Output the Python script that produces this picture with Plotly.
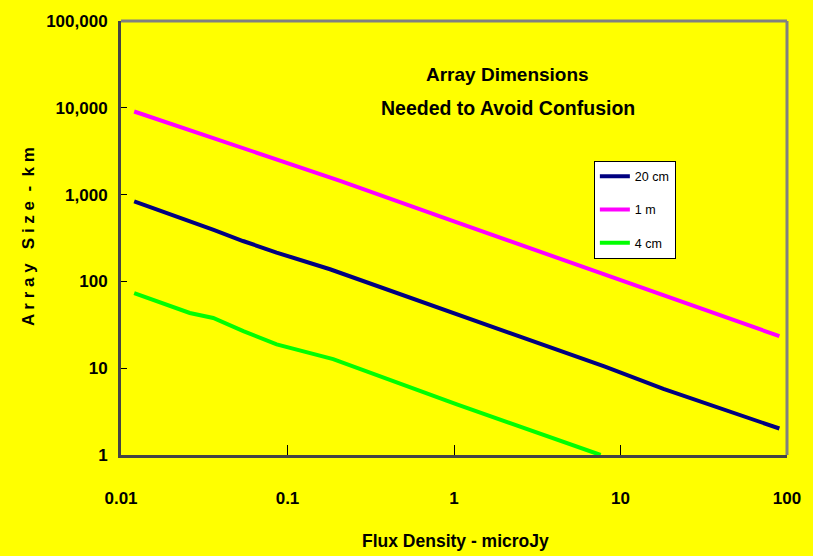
import plotly.graph_objects as go

# ---- data ----
flux_20cm = [0.012, 0.0226, 0.036, 0.054, 0.086, 0.18, 1.04, 8.07, 18.1, 90]
size_20cm = [836, 549, 393, 292, 215, 138, 41.5, 10.4, 5.77, 2.02]

flux_1m = [0.012, 0.0272, 0.052, 0.0785, 0.207, 1.0, 4.97, 90]
size_1m = [9070, 5360, 3459, 2660, 1442, 492, 165, 23.4]

flux_4cm = [0.012, 0.0259, 0.0358, 0.0543, 0.0861, 0.188, 1.04, 7.6]
size_4cm = [73.1, 43.3, 37.9, 26.7, 18.8, 12.7, 3.82, 1.0]

x_tickvals = [0.01, 0.1, 1, 10, 100]
x_ticktext = ["0.01", "0.1", "1", "10", "100"]
y_tickvals = [1, 10, 100, 1000, 10000, 100000]
y_ticktext = ["1", "10", "100", "1,000", "10,000", "100,000"]

FONT = "Liberation Sans, Arial, sans-serif"
YELLOW = "#FFFF00"

fig = go.Figure()
for name, xs, ys, col, grp in [
    ("20 cm", flux_20cm, size_20cm, "#000080", "a"),
    ("1 m", flux_1m, size_1m, "#FF00FF", "b"),
    ("4 cm", flux_4cm, size_4cm, "#00FF00", "c"),
]:
    fig.add_trace(go.Scatter(x=xs, y=ys, mode="lines", name=name, legendgroup=grp,
                             line=dict(color=col, width=4)))

fig.update_layout(
    width=813, height=556,
    margin=dict(l=121, r=26, t=17, b=101),
    paper_bgcolor=YELLOW, plot_bgcolor=YELLOW,
    font=dict(family=FONT, color="black"),
    showlegend=True,
    legend=dict(x=0.71, y=0.678, xanchor="left", yanchor="top",
                bgcolor="white", bordercolor="black", borderwidth=1,
                font=dict(family=FONT, size=12.5, color="black"),
                traceorder="grouped", tracegroupgap=14),
    xaxis=dict(type="log", range=[-2, 2], tickvals=x_tickvals, ticktext=x_ticktext,
               ticks="inside", ticklen=10, tickcolor="black", tickwidth=1,
               showgrid=False, zeroline=False, showline=True, linecolor="#444444", linewidth=3,
               tickfont=dict(family=FONT, size=17, color="black", weight="bold"),
               ticklabelstandoff=26),
    yaxis=dict(type="log", range=[0, 5], tickvals=y_tickvals, ticktext=y_ticktext,
               ticks="inside", ticklen=6, tickcolor="black", tickwidth=1,
               showgrid=False, zeroline=False, showline=True, linecolor="#444444", linewidth=3,
               tickfont=dict(family=FONT, size=17, color="black", weight="bold"),
               ticklabelstandoff=7),
    shapes=[
        dict(type="line", xref="paper", yref="paper", x0=0, x1=1, y0=1, y1=1,
             line=dict(color="#808080", width=3)),
        dict(type="line", xref="paper", yref="paper", x0=1, x1=1, y0=0, y1=1,
             line=dict(color="#808080", width=3)),
    ],
    annotations=[
        dict(text="<b>Array Dimensions</b>", xref="paper", yref="paper", x=0.581, y=0.877,
             xanchor="center", yanchor="middle",
             showarrow=False, font=dict(family=FONT, size=19, color="black")),
        dict(text="<b>Needed to Avoid Confusion</b>", xref="paper", yref="paper", x=0.581, y=0.799,
             xanchor="center", yanchor="middle",
             showarrow=False, font=dict(family=FONT, size=19.5, color="black")),
        dict(text="<b>Flux Density - microJy</b>", xref="paper", yref="paper",
             x=(455 - 121) / 666, y=-(542 - 455) / 438, xanchor="center", yanchor="middle",
             showarrow=False, font=dict(family=FONT, size=17.5, color="black")),
        dict(text="<b>A r r a y   S i z e  -  k m</b>", xref="paper", yref="paper",
             x=-(121 - 28) / 666, y=(455 - 235) / 438, xanchor="center", yanchor="middle",
             showarrow=False, textangle=-90,
             font=dict(family=FONT, size=17, color="black")),
    ],
)

fig.write_html("out.html", config={"displayModeBar": False},
               post_script="document.body.style.margin='0';document.body.style.background='#FFFF00';")
